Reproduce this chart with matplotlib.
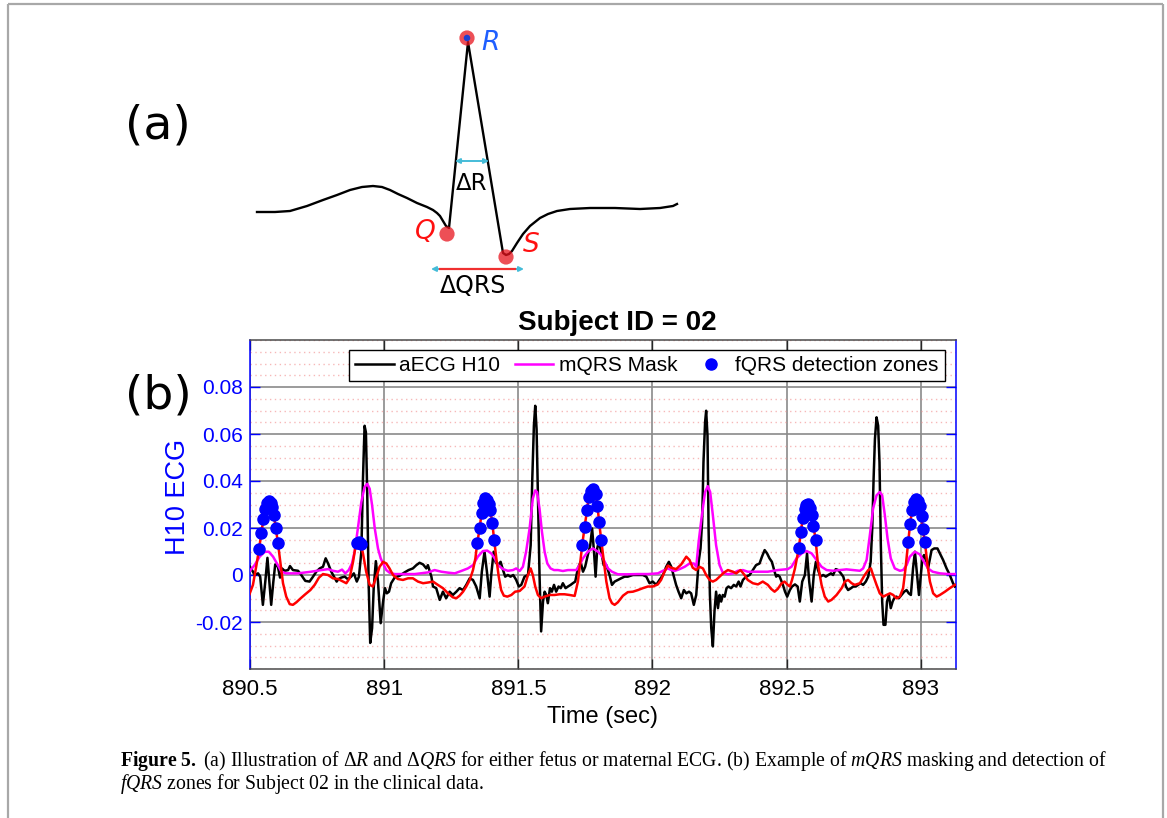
import matplotlib
matplotlib.use("Agg")
import matplotlib.pyplot as plt
from matplotlib.ticker import MultipleLocator

# ---------------- data: panel (b) ----------------
ecg_t = [
    890.500, 890.511, 890.517, 890.530, 890.538, 890.548, 890.557, 890.565, 890.572, 890.579,
    890.587, 890.594, 890.604, 890.612, 890.619, 890.629, 890.642, 890.649, 890.660, 890.679,
    890.691, 890.706, 890.722, 890.735, 890.747, 890.760, 890.772, 890.782, 890.791, 890.803,
    890.813, 890.823, 890.830, 890.840, 890.853, 890.865, 890.877, 890.887, 890.898, 890.906,
    890.915, 890.921, 890.927, 890.932, 890.937, 890.942, 890.948, 890.955, 890.961, 890.969,
    890.977, 890.987, 890.996, 891.003, 891.010, 891.018, 891.026, 891.039, 891.058, 891.076,
    891.091, 891.107, 891.120, 891.132, 891.145, 891.157,
    891.163, 891.176, 891.182, 891.194, 891.207, 891.219, 891.231, 891.244, 891.256, 891.269,
    891.281, 891.294, 891.306, 891.319, 891.331, 891.343, 891.356, 891.364, 891.374, 891.383,
    891.393, 891.399, 891.408, 891.415, 891.424, 891.434, 891.443, 891.451, 891.461, 891.471,
    891.481, 891.492, 891.502, 891.511, 891.523, 891.536, 891.546, 891.552, 891.558, 891.563,
    891.568, 891.573, 891.579, 891.585, 891.592, 891.598, 891.604, 891.610, 891.618, 891.625,
    891.633, 891.641, 891.650, 891.658, 891.666, 891.676, 891.685, 891.695, 891.703, 891.712,
    891.722, 891.732, 891.741, 891.749, 891.759, 891.768, 891.775, 891.782, 891.788, 891.794,
    891.800, 891.809, 891.818, 891.828, 891.840, 891.849,
    891.859, 891.871, 891.883, 891.896, 891.908, 891.927, 891.946, 891.964, 891.977, 891.989,
    892.001, 892.014, 892.026, 892.039, 892.051, 892.061, 892.070, 892.080, 892.088, 892.097,
    892.107, 892.117, 892.126, 892.136, 892.144, 892.154, 892.163, 892.172, 892.179, 892.185,
    892.190, 892.196, 892.200, 892.205, 892.209, 892.214, 892.219, 892.225, 892.231, 892.237,
    892.244, 892.250, 892.256, 892.262, 892.269, 892.276, 892.283, 892.293, 892.303, 892.312,
    892.321, 892.328, 892.337, 892.349, 892.362, 892.374, 892.386, 892.399, 892.408, 892.418,
    892.427, 892.436, 892.445, 892.455, 892.461, 892.467, 892.474, 892.486, 892.494, 892.502,
    892.512, 892.520, 892.531, 892.541, 892.549, 892.558, 892.568, 892.576, 892.584, 892.593,
    892.601, 892.609, 892.617, 892.626, 892.636, 892.646, 892.655, 892.665, 892.673, 892.683,
    892.692, 892.702, 892.711, 892.721, 892.729, 892.740, 892.748, 892.758, 892.766, 892.776,
    892.785, 892.795, 892.804, 892.813, 892.819, 892.824, 892.829, 892.835, 892.841, 892.846,
    892.851, 892.856, 892.861, 892.868, 892.874, 892.881, 892.888, 892.895, 892.901, 892.909,
    892.918, 892.928, 892.938, 892.947, 892.955, 892.963, 892.971, 892.978, 892.985, 892.993,
    893.000, 893.006, 893.012, 893.021, 893.027, 893.034, 893.040, 893.050, 893.062, 893.071,
    893.083, 893.096, 893.108, 893.120, 893.127,
]
ecg_v = [
    0.0035, 0.0014, 0.0000, 0.0007, -0.0007, -0.0127, -0.0028, 0.0073, -0.0028, -0.0127,
    -0.0028, 0.0045, 0.0035, -0.0011, 0.0028, 0.0018, 0.0021, 0.0038, 0.0021, 0.0018,
    0.0000, -0.0025, -0.0028, -0.0007, 0.0014, 0.0028, 0.0035, 0.0071, 0.0049, 0.0014,
    -0.0007, -0.0028, -0.0017, -0.0011, -0.0007, -0.0018, -0.0007, 0.0007, -0.0028, -0.0007,
    0.0099, 0.0410, 0.0635, 0.0607, 0.0339, -0.0028, -0.0289, -0.0226, -0.0056, 0.0059,
    -0.0028, -0.0205, -0.0113, -0.0056, -0.0078, -0.0071, -0.0035, -0.0011, -0.0003, 0.0011,
    0.0021, 0.0028, 0.0042, 0.0052, 0.0045, 0.0028,
    0.0042, -0.0007, -0.0049, -0.0056, -0.0106, -0.0071, -0.0099, -0.0071, -0.0085, -0.0071,
    -0.0056, -0.0064, -0.0042, -0.0014, -0.0021, -0.0049, -0.0099, 0.0014, 0.0099, 0.0014,
    -0.0092, 0.0000, 0.0099, 0.0056, 0.0042, 0.0056, 0.0021, -0.0007, 0.0000, -0.0007,
    0.0000, -0.0021, -0.0049, -0.0042, -0.0007, 0.0000, 0.0127, 0.0409, 0.0635, 0.0720,
    0.0621, 0.0339, 0.0000, -0.0240, -0.0113, -0.0071, -0.0085, -0.0120, -0.0056, -0.0071,
    -0.0042, -0.0071, -0.0049, -0.0056, -0.0035, -0.0056, -0.0049, -0.0042, -0.0035, -0.0028,
    0.0028, 0.0056, 0.0014, 0.0035, 0.0085, 0.0127, 0.0198, 0.0099, -0.0007, 0.0113,
    0.0141, 0.0099, 0.0042, 0.0042, 0.0000, -0.0042,
    -0.0028, -0.0021, -0.0014, -0.0007, -0.0007, 0.0000, 0.0000, 0.0000, -0.0007, -0.0035,
    -0.0028, -0.0042, -0.0021, 0.0000, 0.0035, 0.0056, 0.0035, -0.0007, -0.0042, -0.0071,
    -0.0099, -0.0064, -0.0078, -0.0071, -0.0078, -0.0127, -0.0085, 0.0056, 0.0113, 0.0226,
    0.0480, 0.0650, 0.0699, 0.0593, 0.0198, -0.0085, -0.0226, -0.0304, -0.0155, -0.0071,
    -0.0141, -0.0085, -0.0113, -0.0085, -0.0092, -0.0056, -0.0049, -0.0056, -0.0042, -0.0049,
    -0.0028, -0.0049, -0.0021, -0.0007, 0.0000, 0.0021, 0.0042, 0.0049, 0.0078, 0.0106,
    0.0092, 0.0071, 0.0056, 0.0014, -0.0007, 0.0000, -0.0007, -0.0042, -0.0071, -0.0092,
    -0.0064, -0.0049, -0.0040, -0.0049, -0.0113, -0.0028, 0.0000, 0.0092, -0.0028, -0.0113,
    0.0000, 0.0056, 0.0021, -0.0007, 0.0000, -0.0007, 0.0000, 0.0007, 0.0000, 0.0025,
    0.0021, 0.0007, -0.0007, -0.0049, -0.0064, -0.0056, -0.0049, -0.0049, -0.0042, -0.0035,
    -0.0042, -0.0028, -0.0007, 0.0056, 0.0198, 0.0409, 0.0579, 0.0671, 0.0635, 0.0480,
    0.0127, -0.0113, -0.0212, -0.0212, -0.0113, -0.0085, -0.0141, -0.0113, -0.0099, -0.0092,
    -0.0099, -0.0085, -0.0071, -0.0064, -0.0078, -0.0085, 0.0028, 0.0099, 0.0014, -0.0085,
    0.0000, 0.0071, 0.0085, 0.0056, 0.0028, 0.0071, 0.0106, 0.0113, 0.0113, 0.0092,
    0.0064, 0.0028, 0.0000, -0.0035, -0.0049,
]

mask_t = [
    890.497, 890.517, 890.536, 890.555, 890.570, 890.586, 890.604, 890.617, 890.635, 890.679,
    890.728, 890.766, 890.791, 890.809, 890.828, 890.843, 890.855, 890.868, 890.880, 890.890,
    890.902, 890.915, 890.927, 890.937, 890.946, 890.955, 890.965, 890.977, 890.987, 890.996,
    891.008, 891.020, 891.039, 891.114, 891.163, 891.188, 891.213, 891.238, 891.263, 891.287,
    891.312, 891.331, 891.349, 891.368, 891.384, 891.399, 891.412, 891.424, 891.443, 891.461,
    891.480, 891.492, 891.505, 891.517, 891.529, 891.542, 891.554, 891.563, 891.570, 891.579,
    891.588, 891.598, 891.608, 891.620, 891.633, 891.648, 891.666, 891.685, 891.716, 891.728,
    891.741, 891.759, 891.778, 891.797, 891.809, 891.822, 891.834, 891.849, 891.871, 891.908,
    891.946, 891.983, 892.020, 892.045, 892.057, 892.070, 892.082, 892.101, 892.120, 892.138,
    892.154, 892.163, 892.172, 892.184, 892.196, 892.206, 892.215, 892.225, 892.237, 892.250,
    892.262, 892.281, 892.300, 892.318, 892.337, 892.355, 892.393, 892.430, 892.467, 892.504,
    892.518, 892.537, 892.556, 892.574, 892.593, 892.611, 892.630, 892.649, 892.673, 892.698,
    892.723, 892.748, 892.773, 892.785, 892.798, 892.810, 892.822, 892.835, 892.847, 892.856,
    892.866, 892.876, 892.888, 892.903, 892.922, 892.934, 892.947, 892.959, 892.978, 892.996,
    893.012, 893.027, 893.044, 893.071, 893.102, 893.127,
]
mask_v = [
    0.0014, 0.0042, 0.0078, 0.0099, 0.0099, 0.0078, 0.0042, 0.0014, 0.0007, 0.0007,
    0.0014, 0.0021, 0.0025, 0.0018, 0.0014, 0.0023, 0.0007, 0.0021, 0.0049, 0.0099,
    0.0198, 0.0311, 0.0374, 0.0388, 0.0367, 0.0297, 0.0198, 0.0113, 0.0071, 0.0049,
    0.0021, 0.0010, 0.0004, 0.0004, 0.0011, 0.0021, 0.0014, 0.0010, 0.0007, 0.0017,
    0.0028, 0.0042, 0.0078, 0.0102, 0.0104, 0.0092, 0.0071, 0.0042, 0.0025, 0.0018,
    0.0021, 0.0028, 0.0017, 0.0035, 0.0099, 0.0198, 0.0325, 0.0360, 0.0353, 0.0282,
    0.0184, 0.0099, 0.0049, 0.0028, 0.0021, 0.0021, 0.0017, 0.0021, 0.0021, 0.0042,
    0.0071, 0.0099, 0.0113, 0.0099, 0.0085, 0.0056, 0.0028, 0.0014, 0.0003, 0.0003,
    0.0004, 0.0004, 0.0007, 0.0021, 0.0028, 0.0021, 0.0017, 0.0025, 0.0035, 0.0049,
    0.0049, 0.0035, 0.0141, 0.0254, 0.0353, 0.0378, 0.0353, 0.0254, 0.0127, 0.0042,
    0.0010, 0.0003, 0.0007, 0.0018, 0.0021, 0.0014, 0.0014, 0.0014, 0.0021, 0.0025,
    0.0035, 0.0071, 0.0092, 0.0102, 0.0092, 0.0064, 0.0035, 0.0021, 0.0018, 0.0021,
    0.0024, 0.0021, 0.0018, 0.0028, 0.0064, 0.0169, 0.0282, 0.0339, 0.0353, 0.0339,
    0.0254, 0.0155, 0.0071, 0.0028, 0.0018, 0.0021, 0.0042, 0.0078, 0.0099, 0.0088,
    0.0056, 0.0028, 0.0014, 0.0007, 0.0004, 0.0004,
]

fecg_t = [
    890.497, 890.511, 890.524, 890.534, 890.542, 890.550, 890.556, 890.562, 890.570, 890.577,
    890.583, 890.589, 890.596, 890.604, 890.613, 890.623, 890.635, 890.648, 890.660, 890.673,
    890.689, 890.706, 890.725, 890.741, 890.757, 890.772, 890.791, 890.809, 890.828, 890.847,
    890.859, 890.871, 890.884, 890.892, 890.900, 890.906, 890.913, 890.921, 890.933, 890.946,
    890.958, 890.971, 890.983, 890.996, 891.008, 891.020, 891.033, 891.051, 891.070, 891.089,
    891.107, 891.126, 891.145, 891.163, 891.182, 891.200, 891.219, 891.238, 891.256, 891.269,
    891.281, 891.294, 891.306, 891.319, 891.331, 891.340, 891.347, 891.356, 891.363, 891.369,
    891.377, 891.384, 891.389, 891.395, 891.403, 891.410, 891.418, 891.427, 891.436, 891.446,
    891.459, 891.474, 891.488, 891.505, 891.523, 891.536, 891.546, 891.554, 891.563, 891.573,
    891.585, 891.598, 891.617, 891.635, 891.654, 891.672, 891.691, 891.710, 891.722, 891.731,
    891.738, 891.747, 891.756, 891.762, 891.770, 891.779, 891.788, 891.795, 891.801, 891.809,
    891.819, 891.828, 891.840, 891.849, 891.859, 891.871, 891.890, 891.908, 891.927, 891.946,
    891.964, 891.983, 892.001, 892.020, 892.032, 892.045, 892.057, 892.070, 892.088, 892.107,
    892.126, 892.138, 892.150, 892.163, 892.175, 892.188, 892.200, 892.213, 892.225, 892.237,
    892.250, 892.266, 892.281, 892.300, 892.312, 892.328, 892.343, 892.355, 892.374, 892.393,
    892.411, 892.430, 892.442, 892.455, 892.467, 892.480, 892.492, 892.504, 892.512, 892.520,
    892.531, 892.539, 892.545, 892.553, 892.560, 892.567, 892.573, 892.580, 892.587, 892.593,
    892.600, 892.608, 892.617, 892.630, 892.642, 892.655, 892.667, 892.686, 892.705, 892.717,
    892.729, 892.742, 892.754, 892.773, 892.791, 892.804, 892.814, 892.822, 892.835, 892.847,
    892.860, 892.872, 892.885, 892.897, 892.909, 892.922, 892.934, 892.943, 892.948, 892.953,
    892.960, 892.967, 892.973, 892.982, 892.990, 892.996, 893.003, 893.007, 893.015, 893.025,
    893.034, 893.046, 893.059, 893.071, 893.090, 893.108, 893.127,
]
fecg_v = [
    -0.0085, -0.0042, 0.0042, 0.0112, 0.0177, 0.0237, 0.0282, 0.0305, 0.0313, 0.0308,
    0.0291, 0.0254, 0.0200, 0.0137, 0.0056, -0.0035, -0.0092, -0.0124, -0.0127, -0.0116,
    -0.0099, -0.0082, -0.0064, -0.0042, -0.0011, 0.0004, 0.0000, -0.0014, -0.0017, -0.0028,
    -0.0035, -0.0014, 0.0056, 0.0113, 0.0137, 0.0141, 0.0134, 0.0092, 0.0014, -0.0042,
    -0.0049, -0.0007, 0.0035, 0.0056, 0.0049, 0.0028, 0.0000, -0.0017, -0.0021, -0.0014,
    -0.0014, -0.0028, -0.0035, -0.0032, -0.0028, -0.0042, -0.0056, -0.0078, -0.0095, -0.0099,
    -0.0088, -0.0071, -0.0049, -0.0021, 0.0021, 0.0071, 0.0137, 0.0200, 0.0264, 0.0308,
    0.0328, 0.0319, 0.0304, 0.0278, 0.0222, 0.0148, 0.0071, -0.0007, -0.0064, -0.0088,
    -0.0092, -0.0085, -0.0071, -0.0068, -0.0049, 0.0000, 0.0028, 0.0000, -0.0049, -0.0085,
    -0.0099, -0.0092, -0.0085, -0.0085, -0.0082, -0.0082, -0.0085, -0.0089, -0.0028, 0.0056,
    0.0127, 0.0205, 0.0275, 0.0332, 0.0359, 0.0364, 0.0343, 0.0294, 0.0226, 0.0148,
    0.0056, -0.0028, -0.0099, -0.0120, -0.0127, -0.0116, -0.0088, -0.0073, -0.0071, -0.0064,
    -0.0056, -0.0049, -0.0049, -0.0040, -0.0021, 0.0014, 0.0040, 0.0031, 0.0025, 0.0045,
    0.0078, 0.0064, 0.0031, 0.0021, 0.0035, 0.0028, 0.0000, -0.0021, -0.0028, -0.0021,
    -0.0007, 0.0010, 0.0021, 0.0014, 0.0007, 0.0021, 0.0000, -0.0021, -0.0035, -0.0040,
    -0.0028, -0.0042, -0.0059, -0.0071, -0.0059, -0.0037, -0.0028, -0.0042, -0.0049, -0.0021,
    0.0028, 0.0078, 0.0113, 0.0184, 0.0243, 0.0282, 0.0299, 0.0302, 0.0285, 0.0257,
    0.0209, 0.0148, 0.0042, -0.0042, -0.0092, -0.0113, -0.0106, -0.0085, -0.0056, -0.0028,
    -0.0021, -0.0035, -0.0042, -0.0035, 0.0000, 0.0021, 0.0028, 0.0000, -0.0042, -0.0078,
    -0.0092, -0.0085, -0.0078, -0.0085, -0.0099, -0.0092, -0.0056, 0.0028, 0.0085, 0.0141,
    0.0216, 0.0275, 0.0311, 0.0325, 0.0313, 0.0292, 0.0250, 0.0195, 0.0141, 0.0042,
    -0.0028, -0.0078, -0.0092, -0.0085, -0.0071, -0.0056, -0.0042,
]

fqrs_t = [
    890.534, 890.542, 890.550, 890.556, 890.562, 890.570, 890.577, 890.583, 890.589, 890.596, 890.604,
    890.900, 890.906, 890.913,
    891.347, 891.356, 891.363, 891.369, 891.377, 891.384, 891.389, 891.395, 891.403, 891.410,
    891.738, 891.747, 891.756, 891.762, 891.770, 891.779, 891.788, 891.795, 891.801, 891.809,
    892.545, 892.553, 892.560, 892.567, 892.573, 892.580, 892.587, 892.593, 892.600, 892.608,
    892.953, 892.960, 892.967, 892.973, 892.982, 892.990, 892.996, 893.003, 893.007, 893.015,
]
fqrs_v = [
    0.0112, 0.0177, 0.0237, 0.0282, 0.0305, 0.0313, 0.0308, 0.0291, 0.0254, 0.0200, 0.0137,
    0.0137, 0.0141, 0.0134,
    0.0137, 0.0200, 0.0264, 0.0308, 0.0328, 0.0319, 0.0304, 0.0278, 0.0222, 0.0148,
    0.0127, 0.0205, 0.0275, 0.0332, 0.0359, 0.0364, 0.0343, 0.0294, 0.0226, 0.0148,
    0.0113, 0.0184, 0.0243, 0.0282, 0.0299, 0.0302, 0.0285, 0.0257, 0.0209, 0.0148,
    0.0141, 0.0216, 0.0275, 0.0311, 0.0325, 0.0313, 0.0292, 0.0250, 0.0195, 0.0141,
]

xticks = [890.5, 891.0, 891.5, 892.0, 892.5, 893.0]
xticklabels = ["890.5", "891", "891.5", "892", "892.5", "893"]
yticks = [-0.02, 0.0, 0.02, 0.04, 0.06, 0.08]
yticklabels = ["-0.02", "0", "0.02", "0.04", "0.06", "0.08"]
legend_labels = ["aECG H10", "mQRS Mask", "fQRS detection zones"]

# ---------------- data: panel (a) schematic (illustration units) ----------------
sch_x = [257, 275, 290, 307, 323, 337, 350, 362, 373, 382, 390, 398, 407, 417, 427,
         433, 437, 440, 443, 446, 449, 468, 503, 506, 509, 512, 517, 523, 530, 540,
         548, 557, 570, 590, 615, 640, 660, 673, 677]
sch_y = [212, 212, 211, 206, 200, 195, 190, 187, 186, 187, 190, 194, 198, 203, 207,
         210, 213, 216, 221, 226, 228, 42, 253, 255, 254, 251, 243, 234, 226, 218,
         214, 211, 209, 208, 208, 209, 208, 206, 204]
q_pt = (447, 234)
r_pt = (467, 38)
s_pt = (506, 257)

W, H = 1167, 818
plt.rcParams['font.family'] = ['Liberation Sans', 'DejaVu Sans']
plt.rcParams['mathtext.fontset'] = 'custom'
plt.rcParams['mathtext.rm'] = 'Liberation Serif'
plt.rcParams['mathtext.it'] = 'Liberation Serif:italic'
plt.rcParams['mathtext.bf'] = 'Liberation Serif:bold'

fig = plt.figure(figsize=(W / 100, H / 100), dpi=100)
fig.patch.set_facecolor('white')

# background overlay in page pixel units
bg = fig.add_axes([0, 0, 1, 1], zorder=-1)
bg.set_xlim(0, W)
bg.set_ylim(H, 0)
bg.axis('off')
bg.patch.set_alpha(0)

# page frame
for xs, ys in (([8, 8], [4, H]), ([1163, 1163], [4, H]), ([8, 1163], [4, 4])):
    bg.plot(xs, ys, color='#a8a8a8', lw=1.6, solid_capstyle='butt')

# ---- panel (a)
bg.plot(sch_x, sch_y, color='black', lw=1.7, solid_joinstyle='round')
bg.scatter([q_pt[0], s_pt[0], r_pt[0]], [q_pt[1], s_pt[1], r_pt[1]], s=120,
           color='#e8141e', alpha=0.75, edgecolors='none', zorder=4)
bg.scatter([r_pt[0]], [r_pt[1]], s=22, color='#1f3fd0', zorder=5, edgecolors='none')
bg.text(r_pt[0] + 14, r_pt[1] + 5, 'R', color='#1f5fff', fontsize=19, style='italic',
        family='DejaVu Sans', ha='left', va='center')
bg.text(q_pt[0] - 22, q_pt[1] - 2, 'Q', color='#ff1010', fontsize=19, style='italic',
        family='DejaVu Sans', ha='center', va='center')
bg.text(s_pt[0] + 25, s_pt[1] - 12, 'S', color='#ff1010', fontsize=19, style='italic',
        family='DejaVu Sans', ha='center', va='center')
cyan = '#45bcd8'
bg.annotate('', xy=(455, 161), xytext=(489, 161),
            arrowprops=dict(arrowstyle='<|-|>', color=cyan, lw=1.4, mutation_scale=7,
                            shrinkA=0, shrinkB=0))
bg.text(472, 183, '\u0394R', fontsize=16.5, family='DejaVu Sans', ha='center', va='center')
bg.annotate('', xy=(431, 269), xytext=(524, 269),
            arrowprops=dict(arrowstyle='<|-|>', color=cyan, lw=1.4, mutation_scale=7,
                            shrinkA=0, shrinkB=0))
bg.plot([440, 515], [269, 269], color='#f03030', lw=1.6, zorder=5)
bg.text(473, 286, '\u0394QRS', fontsize=17, family='DejaVu Sans', ha='center', va='center')
bg.text(158, 126, '(a)', fontsize=34, family='DejaVu Sans', ha='center', va='center')
bg.text(158, 396, '(b)', fontsize=34, family='DejaVu Sans', ha='center', va='center')

# ---- panel (b)
ax_l, ax_r, ax_t, ax_b = 250, 955.7, 340, 669
ax = fig.add_axes([ax_l / W, 1 - ax_b / H, (ax_r - ax_l) / W, (ax_b - ax_t) / H])
h1, = ax.plot(ecg_t, ecg_v, color='black', lw=1.8, zorder=3)
h2, = ax.plot(mask_t, mask_v, color='#ff00ff', lw=1.8, zorder=3)
ax.plot(fecg_t, fecg_v, color='#ff0000', lw=1.8, zorder=4)
h3, = ax.plot(fqrs_t, fqrs_v, 'o', color='#0000ff', ms=8, mec='#0000ff', zorder=5)

ax.set_xlim(890.5, 893.13)
ax.set_ylim(-0.04, 0.1)
ax.set_xticks(xticks)
ax.set_xticklabels(xticklabels)
ax.set_yticks(yticks)
ax.set_yticklabels(yticklabels)
ax.yaxis.set_minor_locator(MultipleLocator(0.005))
ax.set_axisbelow(True)
ax.grid(True, which='major', color='#8a8a8a', lw=1.2)
ax.grid(True, which='minor', axis='y', color='#f08a8a', lw=1.0, linestyle=(0, (1, 2.5)), alpha=0.6)
ax.tick_params(axis='y', which='major', direction='in', length=7, width=1,
               color='#0000ff', labelcolor='#0000ff', left=True, right=True, labelsize=15, pad=5)
ax.tick_params(axis='y', which='minor', left=False, right=False)
ax.tick_params(axis='x', which='major', direction='in', length=7, width=1,
               color='#262626', labelcolor='black', top=True, labelsize=16, pad=7)
for side in ('left', 'right'):
    ax.spines[side].set_color('#0000ff')
    ax.spines[side].set_linewidth(1.1)
for side in ('top', 'bottom'):
    ax.spines[side].set_color('#4a4a4a')
    ax.spines[side].set_linewidth(1.1)

ax.set_ylabel('H10 ECG', color='#0000ff', fontsize=19.5)
ax.yaxis.set_label_coords(-0.102, 0.522)
ax.yaxis.label.set_va('center')
ax.set_xlabel('Time (sec)', fontsize=17)
ax.xaxis.set_label_coords(0.5, -0.146)
ax.xaxis.label.set_va('center')
ax.text(0.52, 1.052, 'Subject ID = 02', transform=ax.transAxes, ha='center', va='center',
        fontsize=20, fontweight='bold')

leg = ax.legend([h1, h2, h3], legend_labels, loc='upper right', bbox_to_anchor=(0.985, 0.97),
                ncol=3, fontsize=15, frameon=True, fancybox=False, edgecolor='black',
                framealpha=1, handlelength=1.85, columnspacing=0.7, borderpad=0.3,
                handletextpad=0.25, borderaxespad=0)
leg.get_frame().set_linewidth(1.0)

# ---- caption
line1 = (r"$\mathbf{Figure\ 5.}$ (a) Illustration of $\Delta \mathit{R}$ and $\Delta \mathit{QRS}$ "
         r"for either fetus or maternal ECG. (b) Example of $\mathit{mQRS}$ masking and detection of")
line2 = r"$\mathit{fQRS}$ zones for Subject 02 in the clinical data."
fig.text(120 / W, 1 - 766 / H, line1, fontsize=14.2, family='Liberation Serif', va='baseline')
fig.text(120 / W, 1 - 789 / H, line2, fontsize=14.2, family='Liberation Serif', va='baseline')

fig.savefig('out.png', dpi=100, facecolor='white')
